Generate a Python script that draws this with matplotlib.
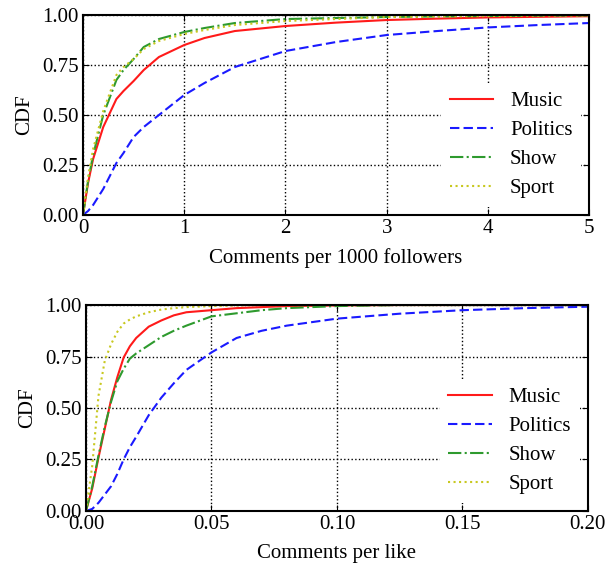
import matplotlib
matplotlib.use("Agg")
import matplotlib.pyplot as plt

plt.rcParams['font.family'] = ['Liberation Serif', 'DejaVu Serif']
plt.rcParams['font.size'] = 15

labels = ["Music", "Politics", "Show", "Sport"]
colors = ["#ff1a1a", "#1a1aff", "#2e9a2e", "#c8c820"]
styles = ["-", (0, (4.5, 2)), "-.", ":"]

# top panel: comments per 1000 followers
x_top = [0, 0.05, 0.1, 0.2, 0.33, 0.4, 0.5, 0.6, 0.75, 1.0, 1.2, 1.5, 2.0, 2.5, 3.0, 3.5, 4.0, 4.5, 5.0]
music_top = [0, 0.16, 0.28, 0.44, 0.58, 0.62, 0.67, 0.725, 0.79, 0.85, 0.885, 0.92, 0.945, 0.962, 0.975, 0.982, 0.988, 0.991, 0.994]
politics_top = [0, 0.02, 0.05, 0.13, 0.26, 0.31, 0.39, 0.44, 0.50, 0.60, 0.66, 0.74, 0.82, 0.865, 0.90, 0.92, 0.938, 0.95, 0.96]
show_top = [0, 0.17, 0.30, 0.50, 0.675, 0.725, 0.78, 0.84, 0.88, 0.915, 0.935, 0.96, 0.98, 0.985, 0.99, 0.993, 0.995, 0.997, 0.998]
sport_top = [0, 0.19, 0.33, 0.52, 0.70, 0.74, 0.78, 0.83, 0.87, 0.905, 0.925, 0.95, 0.97, 0.98, 0.99, 0.993, 0.995, 0.997, 0.998]

# bottom panel: comments per like
x_bot = [0, 0.0025, 0.005, 0.0075, 0.01, 0.0125, 0.015, 0.0175, 0.02, 0.025, 0.03, 0.035, 0.04,
         0.05, 0.06, 0.07, 0.08, 0.1, 0.125, 0.15, 0.175, 0.2]
music_bot = [0, 0.11, 0.26, 0.40, 0.54, 0.65, 0.745, 0.80, 0.84, 0.895, 0.925, 0.95, 0.965,
             0.975, 0.985, 0.99, 0.995, 0.998, 1.0, 1.0, 1.0, 1.0]
politics_bot = [0, 0.01, 0.04, 0.08, 0.12, 0.18, 0.25, 0.31, 0.36, 0.465, 0.55, 0.62, 0.685,
                0.77, 0.84, 0.875, 0.90, 0.934, 0.958, 0.975, 0.985, 0.992]
show_bot = [0, 0.12, 0.27, 0.41, 0.53, 0.63, 0.69, 0.74, 0.765, 0.805, 0.845, 0.875, 0.90,
            0.945, 0.96, 0.975, 0.985, 0.995, 1.0, 1.0, 1.0, 1.0]
sport_bot = [0, 0.22, 0.56, 0.73, 0.81, 0.87, 0.91, 0.93, 0.945, 0.965, 0.978, 0.985, 0.99,
             0.995, 0.998, 1.0, 1.0, 1.0, 1.0, 1.0, 1.0, 1.0]

fig = plt.figure(figsize=(6.08, 5.67), dpi=100)
ax1 = fig.add_axes([0.1365, 0.6208, 0.8325, 0.3527])
ax2 = fig.add_axes([0.1414, 0.0988, 0.8256, 0.3632])

panels = [
    (ax1, x_top, [music_top, politics_top, show_top, sport_top], "Comments per 1000 followers",
     (0, 5), [0, 1, 2, 3, 4, 5], ["0", "1", "2", "3", "4", "5"]),
    (ax2, x_bot, [music_bot, politics_bot, show_bot, sport_bot], "Comments per like",
     (0, 0.2), [0, 0.05, 0.1, 0.15, 0.2], ["0.00", "0.05", "0.10", "0.15", "0.20"]),
]

for ax, xs, series, xlabel, xlim, xt, xtl in panels:
    for ys, lab, c, ls in zip(series, labels, colors, styles):
        ax.plot(xs, ys, color=c, linestyle=ls, linewidth=1.5, label=lab)
    ax.set_xlim(*xlim)
    ax.set_ylim(0, 1)
    ax.set_xticks(xt)
    ax.set_xticklabels(xtl)
    ax.set_yticks([0, 0.25, 0.5, 0.75, 1.0])
    ax.set_yticklabels(["0.00", "0.25", "0.50", "0.75", "1.00"])
    ax.set_xlabel(xlabel, labelpad=7)
    ax.set_ylabel("CDF", labelpad=6)
    ax.grid(True, color="black", linestyle=":", linewidth=1)
    ax.tick_params(direction="in", top=True, right=True, length=4, pad=3)
    for sp in ax.spines.values():
        sp.set_linewidth(1.5)
    ax.legend(loc="lower right", frameon=True, framealpha=1, edgecolor="none",
              fancybox=False, handlelength=2.1, handletextpad=0.8,
              labelspacing=0.45, borderaxespad=0.4)

fig.savefig("out.png", dpi=100)
